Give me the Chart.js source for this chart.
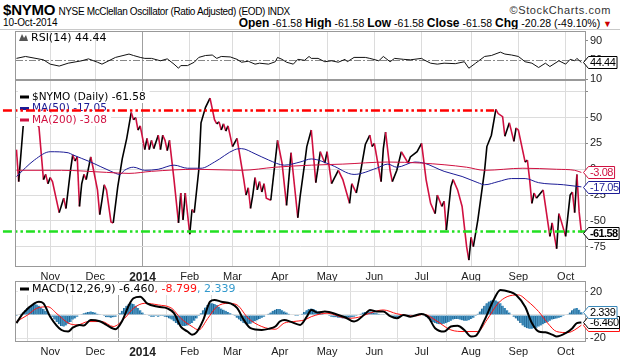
<!DOCTYPE html>
<html><head><meta charset="utf-8">
<script src="https://cdn.jsdelivr.net/npm/chart.js@4/dist/chart.umd.min.js"></script>
<style>
body{margin:0;background:#fff;width:620px;height:360px;overflow:hidden;position:relative;font-family:"Liberation Sans",Arial,sans-serif;}
canvas{position:absolute;left:0;top:0;}
.h{position:absolute;white-space:nowrap;color:#000;font-size:11px;}
</style></head><body>
<div class="h" style="left:3px;top:1px;"><b style="font-size:15px;letter-spacing:-0.2px">$NYMO</b> <span style="font-size:10px;letter-spacing:-0.35px">NYSE McClellan Oscillator (Ratio Adjusted) (EOD) INDX</span></div>
<div class="h" style="right:9px;top:4px;color:#333;font-size:11px;letter-spacing:0.6px">©StockCharts.com</div>
<div class="h" style="left:3px;top:17px;font-size:10px;letter-spacing:-0.1px">10-Oct-2014</div>
<div class="h" style="right:8px;top:16px;font-size:10.5px"><b style="font-size:12px">Open</b> -61.58 <b style="font-size:12px">High</b> -61.58 <b style="font-size:12px">Low</b> -61.58 <b style="font-size:12px">Close</b> -61.58 <b style="font-size:12px">Chg</b> -20.28 (-49.10%) <span style="color:#c00;font-size:9px">▼</span></div>
<div style="position:absolute;left:0;top:29px;width:620px;height:1px;background:#c8c8c8"></div>
<canvas id="cr" width="620" height="360"></canvas>
<canvas id="cm" width="620" height="360"></canvas>
<canvas id="cd" width="620" height="360"></canvas>
<script>
// ---- x axis: trading-day index (0 = 11-Oct-2013), month starts ----
const monthTicks = [15,35,56,77,96,117,138,159,180,202,223,244];
const monthLabels = ['Nov','Dec','2014','Feb','Mar','Apr','May','Jun','Jul','Aug','Sep','Oct'];

// ---- $NYMO daily (turning points: [day, value]) ----
const nymo = [[0,19],[1,-12],[3,42],[5,48],[7,46],[9,44],[10,41],[12,-10],[13,-5],[14,-14],[15,-8],[16,-12],[19,-42],[21,-28],[22,-38],[24,-1],[25,14],[26,8],[27,12],[28,-36],[29,-14],[30,-5],[31,-10],[33,12],[34,2],[36,-20],[37,-44],[38,-30],[39,-15],[40,-20],[42,-51],[43,-52],[45,-17],[47,10],[49,30],[51,55],[52,48],[53,50],[54,38],[55,42],[57,19],[58,30],[59,19],[60,28],[61,20],[63,33],[64,19],[65,33],[66,28],[67,18],[68,28],[70,-10],[72,-52],[73,-23],[74,-49],[75,-23],[77,-63],[78,-39],[79,-42],[81,-1],[82,45],[84,60],[86,69],[88,48],[89,44],[90,46],[91,38],[92,44],[93,37],[94,42],[96,22],[98,30],[101,-10],[102,-25],[103,-18],[104,-38],[105,-25],[106,-8],[107,-20],[108,-12],[109,-22],[110,-14],[111,-28],[113,-30],[116,28],[118,6],[120,-35],[122,16],[125,-47],[126,-27],[128,5],[129,22],[131,38],[133,-13],[135,17],[137,6],[138,17],[140,-14],[143,-1],[145,-10],[148,-33],[149,-14],[151,-23],[153,-1],[155,24],[157,33],[158,22],[159,25],[162,-12],[163,20],[164,36],[166,-1],[167,-12],[169,-1],[171,17],[174,6],[175,12],[178,17],[180,25],[182,-10],[184,-33],[186,-43],[187,-25],[189,-36],[190,-31],[191,-59],[193,-17],[194,-10],[196,-20],[198,-36],[200,-75],[201,-88],[202,-66],[203,-75],[205,-49],[208,-1],[209,22],[211,33],[213,58],[214,54],[216,51],[217,32],[219,45],[221,27],[222,40],[223,38],[226,7],[227,9],[228,-10],[229,-33],[230,-23],[231,-28],[234,-20],[237,-65],[238,-52],[240,-77],[241,-43],[242,-50],[244,-65],[246,-25],[247,-22],[248,-42],[249,-5],[250,-41.30],[251,-61.58]];
const ma50 = [[0,-7],[8,9],[15,17],[23,16],[25,14],[33,7],[42,-2],[46,-5],[48,-1],[52,2],[57,-1],[63,0],[70,4],[76,1],[82,1],[88,7],[97,19],[100,20],[106,15],[112,9],[119,4],[126,7],[131,10],[140,4],[150,-5],[160,1],[165,5],[169,2],[177,7],[181,6],[190,-2],[198,-7],[205,-13],[208,-15],[214,-12],[220,-9],[226,-9],[232,-13],[243,-15],[251,-17.05]];
const ma200 = [[0,-1],[20,-1],[40,-3],[50,-4],[60,-2],[80,0],[100,-1],[115,2],[131,4],[145,5],[165,7],[180,6],[200,2],[208,-1],[225,1],[240,0],[248,-1],[251,-3.08]];
// ---- RSI(14) ----
const rsi = [[0,53],[4,57],[12,50],[15,41],[19,37],[23,43],[29,48],[32,52],[36,45],[38,41],[44,55],[50,62],[52,59],[55,55],[57,53],[60,53],[64,48],[67,52],[70,41],[72,32.5],[73,38],[76,38],[79,45],[81,55],[84,59],[87,60],[89,53],[91,57],[95,56],[98,51],[100,45],[103,47],[106,41],[108,43],[112,41],[115,46],[116,55],[118,51],[120,45],[123,41],[125,51],[128,49],[130,57],[131,53],[134,53],[137,46],[140,48],[143,45],[146,51],[147,46],[150,55],[155,55],[157,53],[161,48],[163,57],[166,46],[168,53],[172,51],[175,50],[180,53],[181,50],[184,43],[187,41],[190,43],[195,42],[199,46],[201,32.5],[204,43],[208,57],[211,59],[215,66],[217,62],[220,60],[223,57],[226,46],[229,43],[232,34],[235,43],[237,36],[241,48],[244,41],[246,51],[248,48],[249,53],[251,44.44]];
// ---- MACD(12,26,9) ----
const macd = [[0,-7],[3,1.5],[8,10],[10,11.4],[12,10],[15,-1.5],[20,-13],[23,-14.3],[25,-11],[28,-8.6],[30,-9],[33,-4.3],[37,-5.5],[40,-8.6],[44,-12.3],[47,-5],[50,8.6],[52,14.3],[55,15.7],[58,10],[63,7],[67,5.7],[70,1.5],[73,-10],[76,-14.3],[78,-17],[80,-15],[83,-4.3],[86,11.4],[88,12.9],[91,11.4],[95,10],[98,6],[101,-4.3],[104,-11.4],[109,-12.9],[112,-12],[115,-10],[117,-5.7],[119,-4.3],[122,-6],[126,-8.6],[129,-1.5],[131,4.3],[134,2],[137,2.9],[143,0],[146,-2],[150,-5.7],[155,1],[157,4.3],[160,3],[163,2.9],[166,-1],[169,-2.9],[172,0],[175,-1.5],[180,0.9],[183,-2],[186,-11.4],[190,-14.3],[193,-10],[196,-9.4],[199,-13],[202,-18.6],[204,-18],[208,-4.3],[212,12.9],[215,21.5],[219,20],[222,17.2],[226,7],[229,-7],[232,-14.3],[235,-15],[238,-17],[240,-18.6],[244,-15.7],[247,-11.4],[249,-7],[251,-6.460]];
const signal = [[0,-5.7],[5,0],[9,5.7],[14,7],[18,1],[23,-7],[27,-8.6],[32,-5.7],[38,-5.7],[43,-10],[48,-3],[52,5.7],[57,10],[63,8.6],[69,5.7],[73,-2.9],[78,-10],[81,-12.9],[85,-3],[89,7],[94,10],[98,8.6],[103,-2.9],[109,-10],[115,-12.3],[119,-7],[123,-5.7],[128,-4.3],[131,-1.5],[138,1.5],[147,-2.9],[152,-2],[157,1.5],[163,4.3],[169,1],[177,-0.9],[181,0.5],[186,-4.3],[193,-12.9],[199,-14.3],[205,-14.3],[209,-4.3],[214,10],[218,15.7],[223,17.2],[227,12],[232,2.9],[236,-7],[240,-14.3],[245,-15.2],[248,-12.9],[251,-8.799]];
const hist = [-1,0,1, 2,4,6,7.5,8.5,9.5,9,8,6.5,5,3.5,2,0.5, -1.5,-4,-6,-8,-9.5,-10,-9,-7.5,-6,-4,-3,-1.5,-0.5, 0.5,1.5,2,2.5,3,2.5,2,1,0.5, -0.5,-1,-2,-2,-2.5,-2,-1.5,-0.5, 1.5,3.5,6,8,9.5,10,9.5,8,6,4,2, 0.5,-0.5,-1,-1.5,-1.5,-1,-1.5,-1,-1,-1.5,-2,-3, -4,-5.5,-7,-8.5,-9,-9.5,-9.5,-9,-8,-7,-5,-3,-1, 1.5,4,6.5,8.5,10,10,9.5,8.5,7,5.5,4.5,3.5,2.5,1.5,0.5, -1,-2.5,-4,-5.5,-7,-8,-8,-7.5,-6.5,-5.5,-4.5,-3.5,-2.5,-1.5,-0.5, 1,2,3.5,4.5,5,5,4,3,2,1, 0,-0.5,-1,-1,-0.5, 1,2.5,4,5,5.5,5,4,3,2,1, 0,-0.5,-1,-1.5,-2,-2,-2.5,-2.5,-3,-3,-3,-2.5,-2,-1.5,-1,0, 1,2,2.5,3,3,2.5,2,1.5,1,0.5,0.5,0,-0.5, -1,-1.5,-2,-2,-1.5,-1,-0.5,0,0.5,0.5,0,0,0.5,0.5,0, -0.5,-1.5,-3,-4.5,-6,-7,-7.5,-8,-8,-7.5,-7,-6,-5,-4,-3.5,-3.5,-4,-4.5,-5,-5,-4.5,-3.5,-2.5,-1, 1,3,5.5,8,10,11.5,12.5,13,12.5,11.5,10,8,6,4,2, 0,-1.5,-3,-5,-7,-9,-10.5,-11.5,-12,-12,-11.5,-11,-10,-9,-8,-7,-6,-5,-4,-3.5,-3,-2.5,-2,-1,-0.5,0.5, 2,4,5.5,6,4.5,2.339];
// ---- axis tick values and annotation levels ----
const rsiTicks = [90,70,50,30,10];
const mainTicks = [75,50,25,0,-25,-50,-75];
const macdTicks = [20,10,0,-10,-20];
const redLevel = {y:57.5, from:-6, to:212.2};
const greenLevel = {y:-60, from:-6, to:252.6};

const P = a => a.map(([x,y]) => ({x,y}));
const last = a => a[a.length-1][1];
const RED = '#d01040', NAVY = '#1c1c96', HBLUE = '#3a88b8';
const FONT = '"Liberation Sans", Arial, sans-serif';

function xScale(show){
  return {type:'linear', min:-0.2, max:252.6, offset:false, position:'bottom',
    afterBuildTicks: s => { s.ticks = monthTicks.map(v => ({value:v})); },
    afterFit: s => { s.height = show ? 18 : 0; },
    ticks:{display:show, autoSkip:false, maxRotation:0, padding:3, color:'#222',
      callback:(v,i) => monthLabels[i],
      font: c => (c.tick && c.tick.value===56) ? {family:FONT,size:12,weight:'bold'} : {family:FONT,size:11}},
    grid:{color: c => (c.tick && c.tick.value===56) ? '#a0a0a0' : '#dcdcdc', drawTicks:false},
    border:{display:false}};
}
function yScale(min,max,ticks,gridColor,hide){
  return {type:'linear', position:'right', min, max,
    afterBuildTicks: s => { s.ticks = ticks.map(v => ({value:v})); },
    afterFit: s => { s.width = 35; },
    ticks:{color:'#222', padding:2, font:{family:FONT,size:11}, callback: v => (hide && hide.includes(v)) ? '' : String(v)},
    grid:{color: gridColor, drawTicks:true, tickLength:3, tickColor:'#888'},
    border:{display:false}};
}
function frame(chart){
  const {ctx, chartArea:a} = chart;
  ctx.save(); ctx.strokeStyle='#999'; ctx.lineWidth=1;
  ctx.strokeRect(Math.round(a.left)-0.5, Math.round(a.top)+0.5, Math.round(a.right-a.left)+1, Math.round(a.bottom-a.top)-1);
  ctx.restore();
}
function tag(chart, value, text, border, color, bold){
  const {ctx, chartArea:a, scales:{y}} = chart;
  const py = Math.round(y.getPixelForValue(value))+0.5, h=12;
  ctx.save();
  ctx.font = (bold?'bold ':'')+'11px '+FONT;
  ctx.letterSpacing = bold ? '-0.6px' : '-0.4px';
  const tw = ctx.measureText(text).width;
  const x0 = Math.round(a.right)-1.5, x1 = x0+5, x2 = Math.min(x1+tw+3, 619.5);
  ctx.beginPath(); ctx.moveTo(x0,py); ctx.lineTo(x1,py-h/2); ctx.lineTo(x2,py-h/2); ctx.lineTo(x2,py+h/2); ctx.lineTo(x1,py+h/2); ctx.closePath();
  ctx.fillStyle='#fff'; ctx.fill(); ctx.strokeStyle=border; ctx.lineWidth=1; ctx.stroke();
  ctx.fillStyle=color; ctx.textBaseline='middle'; ctx.textAlign='left';
  ctx.fillText(text, x1+1.5, py+0.5);
  ctx.restore();
}
function legendRows(chart, rows, y0, dy, fontPx){
  const {ctx, chartArea:a} = chart;
  ctx.save(); ctx.font = fontPx+'px "DejaVu Sans", Verdana, sans-serif'; ctx.textBaseline='middle';
  rows.forEach((r,i) => {
    const y = a.top + y0 + i*dy;
    let w = 0; r.parts.forEach(p => w += ctx.measureText(p[0]).width);
    ctx.fillStyle='#fff'; ctx.fillRect(a.left+2, y-6, w+18, 12);
    ctx.fillStyle = r.parts[0][1]; ctx.fillRect(a.left+4, y-1.5, 9, 3);
    let x = a.left+16;
    r.parts.forEach(p => { ctx.fillStyle=p[1]; ctx.fillText(p[0], x, y); x += ctx.measureText(p[0]).width; });
  });
  ctx.restore();
}
function hLine(chart, lvl, color){
  const {ctx, scales:{x,y}} = chart;
  const py = Math.round(y.getPixelForValue(lvl.y))+0.5;
  ctx.save(); ctx.strokeStyle=color; ctx.lineWidth=2.5; ctx.setLineDash([9,3,2.5,3,2.5,3]);
  ctx.beginPath(); ctx.moveTo(x.getPixelForValue(lvl.from), py); ctx.lineTo(x.getPixelForValue(lvl.to), py); ctx.stroke();
  ctx.restore();
}
Chart.defaults.animation = false;
Chart.defaults.font.family = FONT;
const common = {responsive:false, animation:false, events:[], plugins:{legend:{display:false}, tooltip:{enabled:false}}};

// ---- RSI panel ----
new Chart(document.getElementById('cr'), {
  type:'line',
  data:{datasets:[{data:P(rsi), borderColor:'#111', borderWidth:1, pointRadius:0, tension:0}]},
  options:{...common, layout:{padding:{left:16, right:0, top:31, bottom:280}},
    scales:{x:xScale(false), y:yScale(8,110,rsiTicks, c => (c.tick && (c.tick.value===70||c.tick.value===30)) ? '#777' : 'rgba(0,0,0,0)')}},
  plugins:[{id:'rsiExtras',
    beforeDatasetsDraw(ch){
      const {ctx, chartArea:a, scales:{y}} = ch; const py = Math.round(y.getPixelForValue(50))+0.5;
      ctx.save(); ctx.strokeStyle='#888'; ctx.lineWidth=1; ctx.setLineDash([7,2,2,2]);
      ctx.beginPath(); ctx.moveTo(a.left,py); ctx.lineTo(a.right,py); ctx.stroke(); ctx.restore();
    },
    afterDraw(ch){
      frame(ch);
      const {ctx, chartArea:a} = ch;
      ctx.save(); ctx.fillStyle='#555';
      ctx.beginPath(); ctx.moveTo(a.left+3,a.top+10); ctx.lineTo(a.left+6,a.top+3); ctx.lineTo(a.left+8,a.top+7); ctx.lineTo(a.left+10,a.top+4); ctx.lineTo(a.left+12,a.top+10); ctx.closePath(); ctx.fill();
      ctx.font='11px "DejaVu Sans", Verdana, sans-serif'; ctx.fillStyle='#000'; ctx.textBaseline='middle';
      ctx.fillText('RSI(14) '+last(rsi).toFixed(2), a.left+15, a.top+7);
      ctx.restore();
      tag(ch, last(rsi), last(rsi).toFixed(2), '#000', '#000', false);
    }}]
});

// ---- Main panel ----
new Chart(document.getElementById('cm'), {
  type:'line',
  data:{datasets:[
    {data:P(ma200), borderColor:RED, borderWidth:1, pointRadius:0, cubicInterpolationMode:'monotone'},
    {data:P(ma50), borderColor:NAVY, borderWidth:1, pointRadius:0, cubicInterpolationMode:'monotone'},
    {data:P(nymo), borderColor:'#000', borderWidth:1.6, pointRadius:0, tension:0,
     segment:{borderColor: c => c.p1.parsed.y < c.p0.parsed.y ? RED : '#000'}}
  ]},
  options:{...common, layout:{padding:{left:16, right:0, top:80, bottom:75}},
    scales:{x:xScale(true), y:yScale(-94.7,86.5,mainTicks,'#dcdcdc',[75])}},
  plugins:[{id:'mainExtras',
    afterDatasetsDraw(ch){
      legendRows(ch, [
        {parts:[['$NYMO (Daily) '+last(nymo).toFixed(2),'#000']]},
        {parts:[['MA(50) '+last(ma50).toFixed(2),NAVY]]},
        {parts:[['MA(200) '+last(ma200).toFixed(2),RED]]}
      ], 17, 11.5, 10.5);
      hLine(ch, redLevel, '#ff0000');
      hLine(ch, greenLevel, '#22e022');
    },
    afterDraw(ch){
      frame(ch);
      tag(ch, last(ma200), last(ma200).toFixed(2), RED, RED, false);
      tag(ch, last(ma50), last(ma50).toFixed(2), NAVY, NAVY, false);
      tag(ch, last(nymo), last(nymo).toFixed(2), '#000', '#000', true);
    }}]
});

// ---- MACD panel ----
new Chart(document.getElementById('cd'), {
  type:'bar',
  data:{datasets:[
    {type:'bar', data:hist.map((v,i)=>({x:i,y:v})), backgroundColor:'#4693c2', borderColor:'#1f6592', borderWidth:{left:1}, barThickness:2.4, order:3},
    {type:'line', data:P(signal), borderColor:'#ff1010', borderWidth:1, pointRadius:0, cubicInterpolationMode:'monotone', order:2},
    {type:'line', data:P(macd), borderColor:'#000', borderWidth:2, pointRadius:0, cubicInterpolationMode:'monotone', order:1}
  ]},
  options:{...common, layout:{padding:{left:16, right:0, top:281, bottom:0}},
    scales:{x:xScale(true), y:yScale(-23.3,29.2,macdTicks,'#e2e2e2')}},
  plugins:[{id:'macdExtras',
    afterDatasetsDraw(ch){
      legendRows(ch, [{parts:[['MACD(12,26,9) '+last(macd).toFixed(3),'#000'],[', '+last(signal).toFixed(3),'#ff1010'],[', '+hist[hist.length-1].toFixed(3),'#3399cc']]}], 8, 11, 11);
    },
    afterDraw(ch){
      frame(ch);
      tag(ch, last(signal), last(signal).toFixed(3), '#ff1010', '#ff1010', false);
      tag(ch, last(macd), last(macd).toFixed(3), '#000', '#000', false);
      tag(ch, hist[hist.length-1], hist[hist.length-1].toFixed(3), HBLUE, '#000', false);
    }}]
});
</script>
</body></html>
